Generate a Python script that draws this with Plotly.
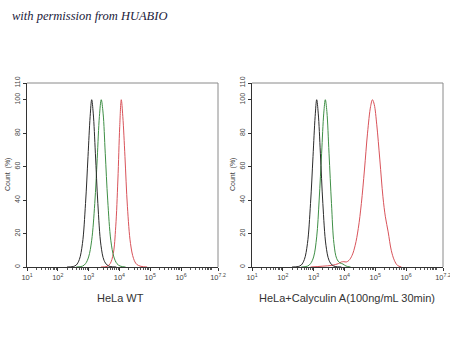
import plotly.graph_objects as go

# ---- data (x given as log10 of fluorescence intensity, y = Count %) ----
wt_black_logx = [2.30, 2.50, 2.60, 2.70, 2.80, 2.90, 2.98, 3.05, 3.10, 3.15, 3.22, 3.30, 3.40, 3.50, 3.60, 3.70, 3.90]
wt_black_y    = [0.0,  0.3,  1.2,  4.5,  14,   38,   66,   90,   100,  92,   68,   38,   13,   4,    1.2,  0.3,  0.0]

wt_green_logx = [2.60, 2.80, 2.90, 3.00, 3.10, 3.20, 3.28, 3.35, 3.41, 3.47, 3.54, 3.62, 3.72, 3.82, 3.92, 4.02, 4.20]
wt_green_y    = [0.0,  0.5,  2.0,  6,    16,   38,   65,   90,   100,  92,   68,   40,   16,   6,    2,    0.6,  0.0]

wt_red_logx   = [3.40, 3.60, 3.70, 3.80, 3.88, 3.95, 4.01, 4.06, 4.11, 4.18, 4.26, 4.36, 4.46, 4.56, 4.70, 4.90]
wt_red_y      = [0.0,  0.4,  2.0,  8,    24,   52,   84,   100,  90,   66,   36,   14,   5,    1.6,  0.4,  0.0]

ca_black_logx = [2.30, 2.50, 2.60, 2.70, 2.80, 2.90, 2.98, 3.05, 3.10, 3.15, 3.22, 3.30, 3.40, 3.50, 3.60, 3.70, 3.90]
ca_black_y    = [0.0,  0.3,  1.2,  4.5,  14,   38,   66,   90,   100,  92,   68,   38,   13,   4,    1.2,  0.3,  0.0]

ca_green_logx = [2.60, 2.80, 2.90, 3.00, 3.10, 3.18, 3.26, 3.33, 3.38, 3.43, 3.50, 3.58, 3.66, 3.75, 3.85, 3.95, 4.05, 4.20]
ca_green_y    = [0.0,  0.5,  2.0,  6,    18,   40,   68,   92,   100,  93,   68,   38,   14,   5,    2.5,  1.8,  0.6,  0.0]

ca_red_logx   = [2.90, 3.30, 3.60, 3.80, 3.90, 3.98, 4.06, 4.15, 4.25, 4.35, 4.45, 4.55, 4.65, 4.75, 4.85, 4.91, 4.97, 5.05, 5.15, 5.25, 5.33, 5.42, 5.52, 5.62, 5.72, 5.85]
ca_red_y      = [0.0,  0.5,  1.0,  2.0,  3.0,  3.2,  3.0,  4.0,  7,    13,   23,   38,   58,   80,   96,   100,  97,   85,   64,   42,   30,   21,   10,   4,    1.0,  0.0]

x_tick_exps   = [1, 2, 3, 4, 5, 6, 7.2]
x_tick_labels = ["10<sup>1</sup>", "10<sup>2</sup>", "10<sup>3</sup>", "10<sup>4</sup>",
                 "10<sup>5</sup>", "10<sup>6</sup>", "10<sup>7.2</sup>"]
y_tick_vals   = [0, 20, 40, 60, 80, 100, 110]

panel_titles  = ["HeLa WT", "HeLa+Calyculin A(100ng/mL 30min)"]
header_text   = "with permission from HUABIO"

BLACK = "#2b2b2b"
GREEN = "#3f8f46"
RED = "#d9535a"

fig = go.Figure()

def add(logx, y, color, xa, ya):
    fig.add_trace(go.Scatter(
        x=[10 ** v for v in logx], y=y, mode="lines",
        line=dict(color=color, width=1, shape="spline", smoothing=1.0),
        xaxis=xa, yaxis=ya, showlegend=False, hoverinfo="skip"))

add(wt_red_logx, wt_red_y, RED, "x", "y")
add(wt_green_logx, wt_green_y, GREEN, "x", "y")
add(wt_black_logx, wt_black_y, BLACK, "x", "y")
add(ca_red_logx, ca_red_y, RED, "x2", "y2")
add(ca_green_logx, ca_green_y, GREEN, "x2", "y2")
add(ca_black_logx, ca_black_y, BLACK, "x2", "y2")

W, H = 450, 360
left_dom = [27 / W, 218 / W]
right_dom = [252 / W, 443 / W]
y_dom = [(H - 267) / H, (H - 83) / H]

minor_vals = []
for d in range(1, 7):
    for m in range(2, 10):
        v = m * 10 ** d
        if v < 10 ** 7.2:
            minor_vals.append(v)
minor_vals.append(1e7)

xtickfont = dict(family="Liberation Sans, Arial, sans-serif", size=7.5, color="#444")
ytickfont = dict(family="Liberation Sans, Arial, sans-serif", size=7, color="#444")

def xaxis(dom, anchor):
    return dict(domain=dom, anchor=anchor, type="log", range=[1, 7.2], automargin=False,
                tickvals=[10 ** e for e in x_tick_exps], ticktext=x_tick_labels,
                ticklabeloverflow="allow",
                ticks="outside", ticklen=3, tickcolor="#333", tickwidth=1,
                showline=True, linecolor="#333", linewidth=1,
                showgrid=False, zeroline=False, tickfont=xtickfont,
                minor=dict(tickvals=minor_vals, ticks="outside", ticklen=1.5,
                           tickcolor="#555", showgrid=False))

def yaxis(anchor):
    return dict(domain=y_dom, anchor=anchor, range=[0, 110], automargin=False,
                tickvals=y_tick_vals, ticktext=[str(v) for v in y_tick_vals],
                ticklabeloverflow="allow",
                ticks="outside", ticklen=3, tickcolor="#333", tickwidth=1,
                tickangle=-90, showline=True, linecolor="#333", linewidth=1,
                showgrid=False, zeroline=False, tickfont=ytickfont)

fig.update_layout(
    width=W, height=H, margin=dict(l=0, r=0, t=0, b=0, autoexpand=False),
    paper_bgcolor="white", plot_bgcolor="white",
    xaxis=xaxis(left_dom, "y"), yaxis=yaxis("x"),
    xaxis2=xaxis(right_dom, "y2"), yaxis2=yaxis("x2"),
)

# gray top/right frame lines of each panel
for dom in (left_dom, right_dom):
    fig.add_shape(type="line", xref="paper", yref="paper",
                  x0=dom[0], x1=dom[1], y0=y_dom[1], y1=y_dom[1],
                  line=dict(color="#8a8a8a", width=1))
    fig.add_shape(type="line", xref="paper", yref="paper",
                  x0=dom[1], x1=dom[1], y0=y_dom[0], y1=y_dom[1],
                  line=dict(color="#8a8a8a", width=1))

titlefont = dict(family="Liberation Sans, Arial, sans-serif", size=11, color="#333")
fig.add_annotation(text=panel_titles[0], x=120 / W, y=(H - 298) / H, xref="paper", yref="paper",
                   showarrow=False, font=titlefont, xanchor="center", yanchor="middle")
fig.add_annotation(text=panel_titles[1], x=347 / W, y=(H - 298) / H, xref="paper", yref="paper",
                   showarrow=False, font=titlefont, xanchor="center", yanchor="middle")

for xp in (8 / W, 233 / W):
    fig.add_annotation(text="Count  (%)", x=xp, y=(H - 175) / H, xref="paper", yref="paper",
                       showarrow=False, textangle=-90, xanchor="center", yanchor="middle",
                       font=dict(family="Liberation Sans, Arial, sans-serif", size=7, color="#444"))

fig.add_annotation(text="<i>" + header_text + "</i>", x=10 / W, y=(H - 16) / H,
                   xref="paper", yref="paper", showarrow=False, xanchor="left", yanchor="middle",
                   font=dict(family="Liberation Serif, serif", size=12.5, color="#1a1a3a"))

fig.write_html("out.html", config={"displayModeBar": False},
               post_script="document.body.style.margin='0';document.body.style.overflow='hidden';")
